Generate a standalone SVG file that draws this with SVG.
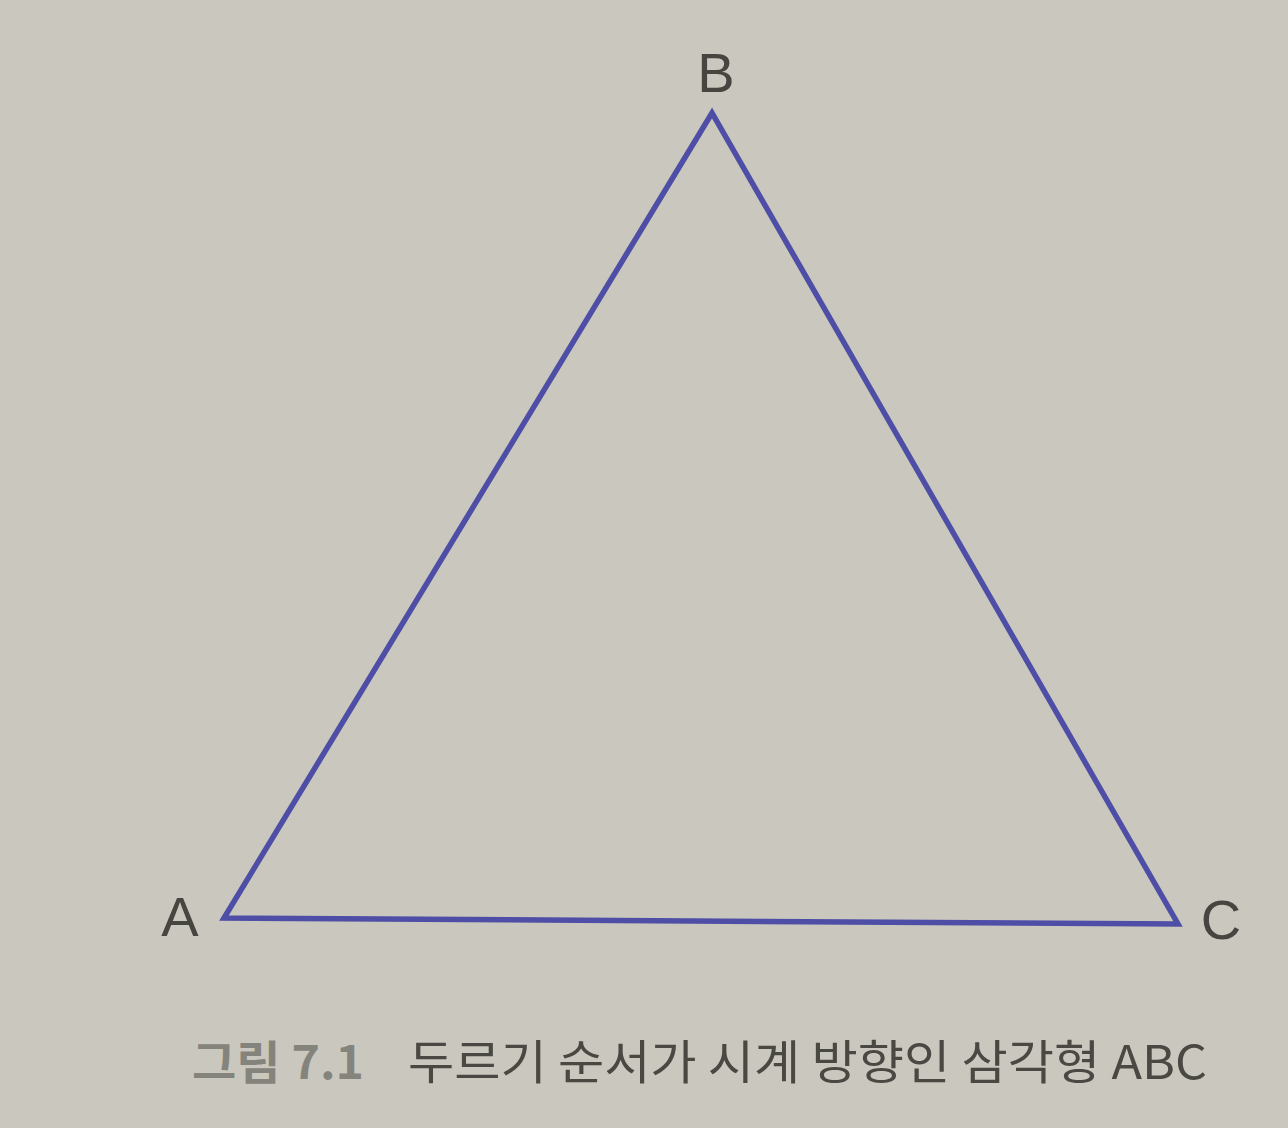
<svg xmlns="http://www.w3.org/2000/svg" width="1288" height="1128" viewBox="0 0 1288 1128">
<style>
.lbl{font-family:"Liberation Sans","Noto Sans",sans-serif;font-size:56px;fill:#46453f}
.cap{font-family:"Noto Sans CJK KR",sans-serif;font-size:47px;font-weight:400;fill:#4a4842}
.capb{font-family:"Noto Sans CJK KR",sans-serif;font-size:46px;font-weight:bold;fill:#85847c}
.edge{fill:none;stroke:#4e4ea6;stroke-width:5.5;stroke-linejoin:miter}
</style>
<rect width="1288" height="1128" fill="#cac8be"/>
<g id="connectors">
<polygon class="edge" points="224,918 712,113 1178,924"/>
</g>
<g id="node-B"><text class="lbl" x="716" y="92" text-anchor="middle">B</text></g>
<g id="node-A"><text class="lbl" x="180" y="936" text-anchor="middle">A</text></g>
<g id="node-C"><text class="lbl" x="1221" y="939" text-anchor="middle">C</text></g>
<g id="caption">
<text class="capb" x="192" y="1079" textLength="172" lengthAdjust="spacingAndGlyphs">그림 7.1</text>
<text class="cap" x="408" y="1079" textLength="799" lengthAdjust="spacingAndGlyphs">두르기 순서가 시계 방향인 삼각형 ABC</text>
</g>
</svg>
